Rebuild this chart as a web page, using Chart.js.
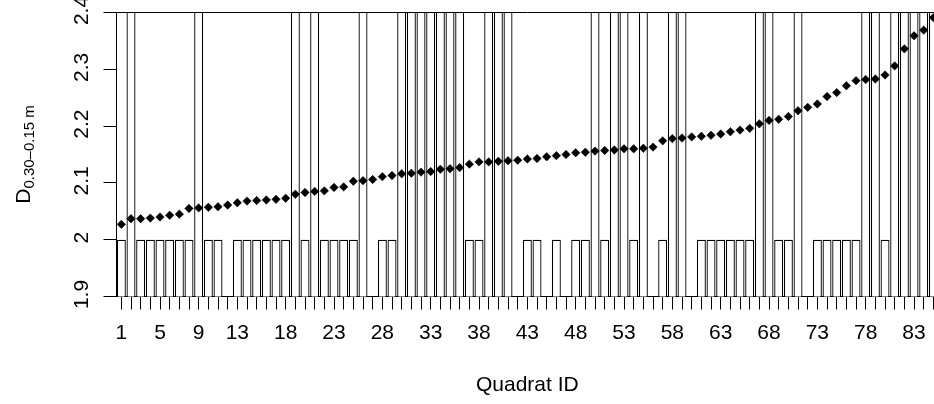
<!DOCTYPE html>
<html>
<head>
<meta charset="utf-8">
<title>Quadrat D</title>
<script src="https://cdn.jsdelivr.net/npm/chart.js@4/dist/chart.umd.min.js"></script>
<style>
  html, body { margin: 0; padding: 0; background: #fff; overflow: hidden; }
  #wrap { position: absolute; left: 0; top: 0; }
</style>
</head>
<body>
<div id="wrap"><canvas id="quadrat-chart" width="960" height="404"></canvas></div>
<script>
// quadrats, ordered by D
const quadratIds = Array.from({ length: 85 }, (_, i) => String(i + 1));

// class per quadrat (drawn as bars on the same axis, clipped to the plot box)
const quadratClass = [
  2, 3, 2, 2, 2, 2, 2, 2, 3, 2,
  2, 1, 2, 2, 2, 2, 2, 2, 3, 2,
  3, 2, 2, 2, 2, 3, 1, 2, 2, 3,
  3, 3, 3, 3, 3, 3, 2, 2, 3, 3,
  3, 1, 2, 2, 1, 2, 1, 2, 2, 3,
  2, 3, 3, 2, 3, 1, 2, 3, 3, 1,
  2, 2, 2, 2, 2, 2, 3, 3, 2, 2,
  3, 1, 2, 2, 2, 2, 2, 3, 3, 2,
  3, 3, 3, 3, 3
];

// D 0.30-0.15 m per quadrat
const dValues = [
  2.027, 2.037, 2.037, 2.038, 2.040, 2.043, 2.045, 2.055, 2.056, 2.057,
  2.058, 2.061, 2.065, 2.068, 2.069, 2.070, 2.071, 2.073, 2.080, 2.083,
  2.085, 2.086, 2.092, 2.093, 2.103, 2.104, 2.106, 2.111, 2.113, 2.116,
  2.117, 2.119, 2.120, 2.124, 2.125, 2.127, 2.133, 2.137, 2.137, 2.138,
  2.139, 2.140, 2.142, 2.143, 2.146, 2.148, 2.150, 2.153, 2.154, 2.156,
  2.157, 2.158, 2.160, 2.160, 2.161, 2.163, 2.174, 2.178, 2.179, 2.181,
  2.182, 2.184, 2.186, 2.190, 2.193, 2.196, 2.204, 2.210, 2.212, 2.217,
  2.227, 2.233, 2.239, 2.252, 2.259, 2.271, 2.280, 2.282, 2.283, 2.290,
  2.306, 2.336, 2.359, 2.369, 2.391
];

// only these ids get a label under the ticks
const xTickLabels = ['1', '5', '9', '13', '18', '23', '28', '33', '38', '43',
  '48', '53', '58', '63', '68', '73', '78', '83'];
const yTickLabels = ['1.9', '2', '2.1', '2.2', '2.3', '2.4'];

const yTitleMain = 'D';
const yTitleSub = '0.30\u20130.15 m';
const xTitle = 'Quadrat ID';

const FONT = '"Liberation Sans", Arial, Helvetica, sans-serif';

Chart.defaults.font.family = FONT;
Chart.defaults.font.size = 21;
Chart.defaults.color = '#000';

// y title with subscript, drawn straight on the canvas
const yTitlePlugin = {
  id: 'yTitle',
  afterDraw(chart) {
    const ctx = chart.ctx;
    const area = chart.chartArea;
    const mid = (area.top + area.bottom) / 2;
    ctx.save();
    ctx.translate(30, mid);
    ctx.rotate(-Math.PI / 2);
    ctx.fillStyle = '#000';
    ctx.textBaseline = 'alphabetic';
    ctx.textAlign = 'left';
    ctx.font = '21px ' + FONT;
    const wMain = ctx.measureText(yTitleMain).width;
    ctx.font = '15px ' + FONT;
    const wSub = ctx.measureText(yTitleSub).width;
    const start = -(wMain + wSub) / 2;
    ctx.font = '21px ' + FONT;
    ctx.fillText(yTitleMain, start, 0);
    ctx.font = '15px ' + FONT;
    ctx.fillText(yTitleSub, start + wMain, 4);
    ctx.restore();
  }
};

const ctx = document.getElementById('quadrat-chart').getContext('2d');

new Chart(ctx, {
  type: 'bar',
  data: {
    labels: quadratIds,
    datasets: [
      {
        type: 'line',
        label: 'D',
        data: dValues,
        showLine: false,
        pointStyle: 'rectRot',
        pointRadius: 4.2,
        pointBorderWidth: 0.6,
        pointBackgroundColor: '#000',
        pointBorderColor: '#000',
        order: 0
      },
      {
        type: 'bar',
        label: 'class',
        data: quadratClass,
        backgroundColor: '#fff',
        borderColor: '#000',
        borderWidth: 1.3,
        barPercentage: 0.93,
        categoryPercentage: 1,
        clip: 0,
        order: 1
      }
    ]
  },
  options: {
    responsive: false,
    maintainAspectRatio: false,
    animation: false,
    devicePixelRatio: 1,
    layout: { padding: { top: 12.5, right: 21.8, bottom: 0, left: 0 } },
    plugins: {
      legend: { display: false },
      tooltip: { enabled: false }
    },
    scales: {
      x: {
        type: 'category',
        offset: true,
        afterFit: s => { s.height = 107.5; },
        border: { display: true, color: '#000', width: 1 },
        grid: {
          offset: false,
          drawOnChartArea: false,
          drawTicks: true,
          tickLength: 13,
          tickColor: '#000',
          color: '#000'
        },
        ticks: {
          autoSkip: false,
          maxRotation: 0,
          minRotation: 0,
          padding: 11,
          callback: (v, i) => xTickLabels.includes(quadratIds[i]) ? quadratIds[i] : ''
        },
        title: {
          display: true,
          text: xTitle,
          padding: { top: 0, bottom: 6 }
        }
      },
      y: {
        type: 'linear',
        min: 1.9,
        max: 2.4,
        afterFit: s => {
          s.width = 116.5;
          s.paddingTop = 0;
          s.paddingBottom = 0;
        },
        border: { display: true, color: '#000', width: 1, z: 1 },
        grid: {
          z: 1,
          drawTicks: true,
          tickLength: 13,
          tickColor: '#000',
          // box top at 2.4; the other levels only get tick marks
          color: c => (c.tick && Math.abs(c.tick.value - 2.4) < 1e-6) ? '#000' : 'rgba(0,0,0,0)'
        },
        ticks: {
          stepSize: 0.1,
          minRotation: 90,
          maxRotation: 90,
          crossAlign: 'center',
          padding: 7,
          labelOffset: -2,
          callback: (v, i) => yTickLabels[i]
        }
      }
    }
  },
  plugins: [yTitlePlugin]
});
</script>
</body>
</html>
